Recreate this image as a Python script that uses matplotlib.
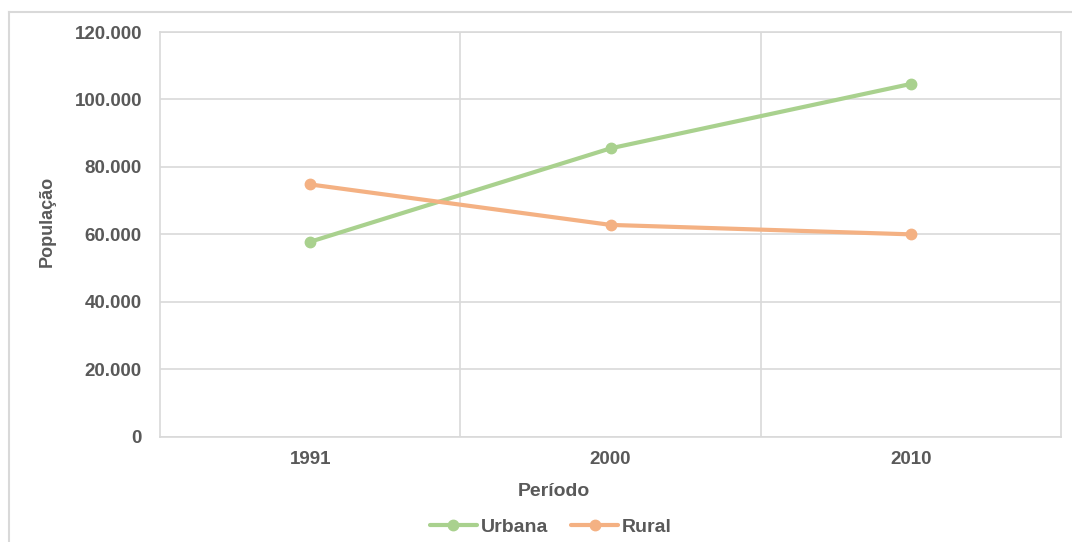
import matplotlib
matplotlib.use("Agg")
import matplotlib.pyplot as plt
from matplotlib.ticker import FuncFormatter, FixedLocator
from matplotlib.lines import Line2D

periods = ["1991", "2000", "2010"]
urbana = [57800, 85500, 104600]
rural = [74800, 62800, 60000]
y_ticks = [0, 20000, 40000, 60000, 80000, 100000, 120000]

GREEN = "#A9D18E"
ORANGE = "#F4B183"
GRID = "#D9D9D9"
TEXT = "#595959"

plt.rcParams['font.family'] = ['Liberation Sans', 'DejaVu Sans']

W, H = 1072, 542
fig = plt.figure(figsize=(W / 100, H / 100), dpi=100)

# outer chart border (left and top visible)
fig.add_artist(Line2D([9 / W, 9 / W], [0, 1 - 12 / H], transform=fig.transFigure, color=GRID, lw=1.5))
fig.add_artist(Line2D([9 / W, 1], [1 - 12 / H, 1 - 12 / H], transform=fig.transFigure, color=GRID, lw=1.5))

left, right, top, bottom = 160, 1061, 32, 436.7
ax = fig.add_axes([left / W, 1 - bottom / H, (right - left) / W, (bottom - top) / H])

x = list(range(len(periods)))
ax.plot(x, urbana, color=GREEN, lw=3, marker="o", ms=7.5, solid_capstyle="round", label="Urbana", zorder=3)
ax.plot(x, rural, color=ORANGE, lw=3, marker="o", ms=7.5, solid_capstyle="round", label="Rural", zorder=3)

ax.set_xlim(-0.5, len(periods) - 0.5)
ax.set_ylim(0, 120000)
ax.set_yticks(y_ticks)
ax.yaxis.set_major_formatter(FuncFormatter(lambda v, p: f"{int(v):,}".replace(",", ".")))
ax.set_xticks(x)
ax.set_xticklabels(periods)
ax.xaxis.set_minor_locator(FixedLocator([i + 0.5 for i in x[:-1]]))

ax.grid(axis="y", which="major", color=GRID, lw=1.2)
ax.grid(axis="x", which="minor", color=GRID, lw=1.2)
ax.set_axisbelow(True)
for s in ax.spines.values():
    s.set_color(GRID)
    s.set_linewidth(1.2)

ax.tick_params(axis="both", which="both", length=0)
ax.tick_params(axis="y", pad=13, labelsize=13.5, labelcolor=TEXT)
ax.tick_params(axis="x", pad=10, labelsize=13.5, labelcolor=TEXT)
for lab in ax.get_xticklabels() + ax.get_yticklabels():
    lab.set_fontweight("bold")

fig.text(47 / W, 1 - 221 / H, "População", rotation=90, ha="center", va="center",
         fontsize=13, fontweight="bold", color=TEXT)
fig.text(554 / W, 1 - 491 / H, "Período", ha="center", va="center",
         fontsize=14, fontweight="bold", color=TEXT)

leg = fig.legend(loc="center", bbox_to_anchor=(551 / W, 1 - 527 / H), ncol=2, frameon=False,
                 fontsize=14, handlelength=2.4, handletextpad=0.2, columnspacing=1.2)
for t in leg.get_texts():
    t.set_color(TEXT)
    t.set_fontweight("bold")

fig.savefig("out.png", dpi=100)
